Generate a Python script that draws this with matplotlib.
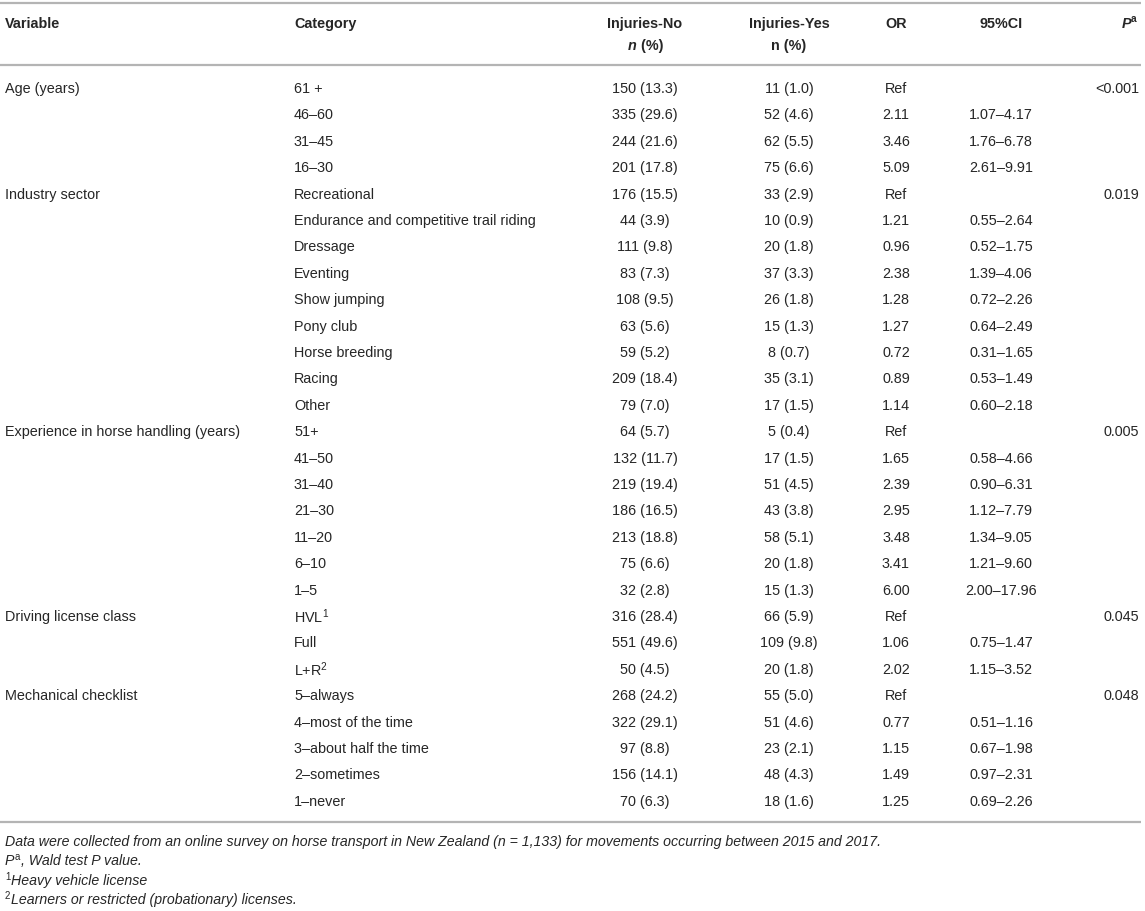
import matplotlib
matplotlib.use("Agg")
import matplotlib.pyplot as plt

plt.rcParams['font.family'] = ['Liberation Sans', 'DejaVu Sans']
plt.rcParams['mathtext.fontset'] = 'custom'
plt.rcParams['mathtext.rm'] = 'Liberation Sans'
plt.rcParams['mathtext.it'] = 'Liberation Sans:italic'
plt.rcParams['mathtext.bf'] = 'Liberation Sans:bold'

# ---------------- data ----------------
variables = ["Age (years)", "Industry sector", "Experience in horse handling (years)",
             "Driving license class", "Mechanical checklist"]
group_sizes = [4, 9, 7, 3, 5]
p_values = ["<0.001", "0.019", "0.005", "0.045", "0.048"]

categories = ["61 +", "46–60", "31–45", "16–30",
              "Recreational", "Endurance and competitive trail riding", "Dressage", "Eventing",
              "Show jumping", "Pony club", "Horse breeding", "Racing", "Other",
              "51+", "41–50", "31–40", "21–30", "11–20", "6–10", "1–5",
              "HVL$^{1}$", "Full", "L+R$^{2}$",
              "5–always", "4–most of the time", "3–about half the time", "2–sometimes", "1–never"]

injuries_no = ["150 (13.3)", "335 (29.6)", "244 (21.6)", "201 (17.8)",
               "176 (15.5)", "44 (3.9)", "111 (9.8)", "83 (7.3)", "108 (9.5)", "63 (5.6)",
               "59 (5.2)", "209 (18.4)", "79 (7.0)",
               "64 (5.7)", "132 (11.7)", "219 (19.4)", "186 (16.5)", "213 (18.8)", "75 (6.6)", "32 (2.8)",
               "316 (28.4)", "551 (49.6)", "50 (4.5)",
               "268 (24.2)", "322 (29.1)", "97 (8.8)", "156 (14.1)", "70 (6.3)"]

injuries_yes = ["11 (1.0)", "52 (4.6)", "62 (5.5)", "75 (6.6)",
                "33 (2.9)", "10 (0.9)", "20 (1.8)", "37 (3.3)", "26 (1.8)", "15 (1.3)",
                "8 (0.7)", "35 (3.1)", "17 (1.5)",
                "5 (0.4)", "17 (1.5)", "51 (4.5)", "43 (3.8)", "58 (5.1)", "20 (1.8)", "15 (1.3)",
                "66 (5.9)", "109 (9.8)", "20 (1.8)",
                "55 (5.0)", "51 (4.6)", "23 (2.1)", "48 (4.3)", "18 (1.6)"]

odds_ratio = ["Ref", "2.11", "3.46", "5.09",
              "Ref", "1.21", "0.96", "2.38", "1.28", "1.27", "0.72", "0.89", "1.14",
              "Ref", "1.65", "2.39", "2.95", "3.48", "3.41", "6.00",
              "Ref", "1.06", "2.02",
              "Ref", "0.77", "1.15", "1.49", "1.25"]

conf_int = ["", "1.07–4.17", "1.76–6.78", "2.61–9.91",
            "", "0.55–2.64", "0.52–1.75", "1.39–4.06", "0.72–2.26", "0.64–2.49",
            "0.31–1.65", "0.53–1.49", "0.60–2.18",
            "", "0.58–4.66", "0.90–6.31", "1.12–7.79", "1.34–9.05", "1.21–9.60", "2.00–17.96",
            "", "0.75–1.47", "1.15–3.52",
            "", "0.51–1.16", "0.67–1.98", "0.97–2.31", "0.69–2.26"]

# footnotes as (text, is_superscript) pieces
footnotes = [
    [("Data were collected from an online survey on horse transport in New Zealand (n = 1,133) for movements occurring between 2015 and 2017.", False)],
    [("P", False), ("a", True), (", Wald test P value.", False)],
    [("1", True), ("Heavy vehicle license", False)],
    [("2", True), ("Learners or restricted (probationary) licenses.", False)],
]

# ---------------- layout ----------------
W, H = 1145, 912
fig = plt.figure(figsize=(W / 100, H / 100), dpi=100)
ax = fig.add_axes([0, 0, 1, 1])
ax.set_xlim(0, W)
ax.set_ylim(H, 0)
ax.axis('off')

TXT = '#262626'
LINE = '#b4b4b4'
FS = 10.4
FS_NOTE = 10.2

x_var, x_cat = 5, 294
x_no, x_yes, x_or, x_ci, x_p = 645, 789, 896, 1001, 1139

# rules
for yl in (4, 66, 823):
    ax.plot([0, 1141], [yl, yl], color=LINE, lw=1.6, solid_capstyle='butt')

# header
hy1, hy2 = 24, 46
hkw = dict(fontsize=FS, fontweight='bold', color=TXT, va='center')
ax.text(x_var, hy1, "Variable", ha='left', **hkw)
ax.text(x_cat, hy1, "Category", ha='left', **hkw)
ax.text(x_no, hy1, "Injuries-No", ha='center', **hkw)
ax.text(x_yes, hy1, "Injuries-Yes", ha='center', **hkw)
ax.text(x_or, hy1, "OR", ha='center', **hkw)
ax.text(x_ci, hy1, "95%CI", ha='center', **hkw)
ax.text(x_p - 8, hy1, "P", ha='right', fontstyle='italic', **hkw)
ax.text(x_p - 8, hy1 - 5, "a", ha='left', fontsize=FS * 0.7, fontweight='bold', color=TXT, va='center')
ax.text(637, hy2, "n", ha='right', fontstyle='italic', **hkw)
ax.text(637, hy2, " (%)", ha='left', **hkw)
ax.text(x_yes, hy2, "n (%)", ha='center', **hkw)

# body
y0, dy = 89, 26.4
kw = dict(fontsize=FS, color=TXT, va='center')
row = 0
for var, n, pv in zip(variables, group_sizes, p_values):
    ytop = y0 + row * dy
    ax.text(x_var, ytop, var, ha='left', **kw)
    ax.text(x_p, ytop, pv, ha='right', **kw)
    row += n

for i in range(len(categories)):
    y = y0 + i * dy
    ax.text(x_cat, y, categories[i], ha='left', **kw)
    ax.text(x_no, y, injuries_no[i], ha='center', **kw)
    ax.text(x_yes, y, injuries_yes[i], ha='center', **kw)
    ax.text(x_or, y, odds_ratio[i], ha='center', **kw)
    if conf_int[i]:
        ax.text(x_ci, y, conf_int[i], ha='center', **kw)

# footnotes, placed piece by piece
renderer = fig.canvas.get_renderer()
fy = [842, 861, 881, 900]
for pieces, y in zip(footnotes, fy):
    x = x_var
    for txt, sup in pieces:
        if sup:
            t = ax.text(x, y - 4, txt, ha='left', va='center', fontsize=FS_NOTE * 0.68,
                        fontstyle='normal', color=TXT)
        else:
            t = ax.text(x, y, txt, ha='left', va='center', fontsize=FS_NOTE,
                        fontstyle='italic', color=TXT)
        bb = t.get_window_extent(renderer=renderer)
        x += bb.width + (1 if sup else 0)

fig.savefig("out.png", dpi=100, facecolor='white')
